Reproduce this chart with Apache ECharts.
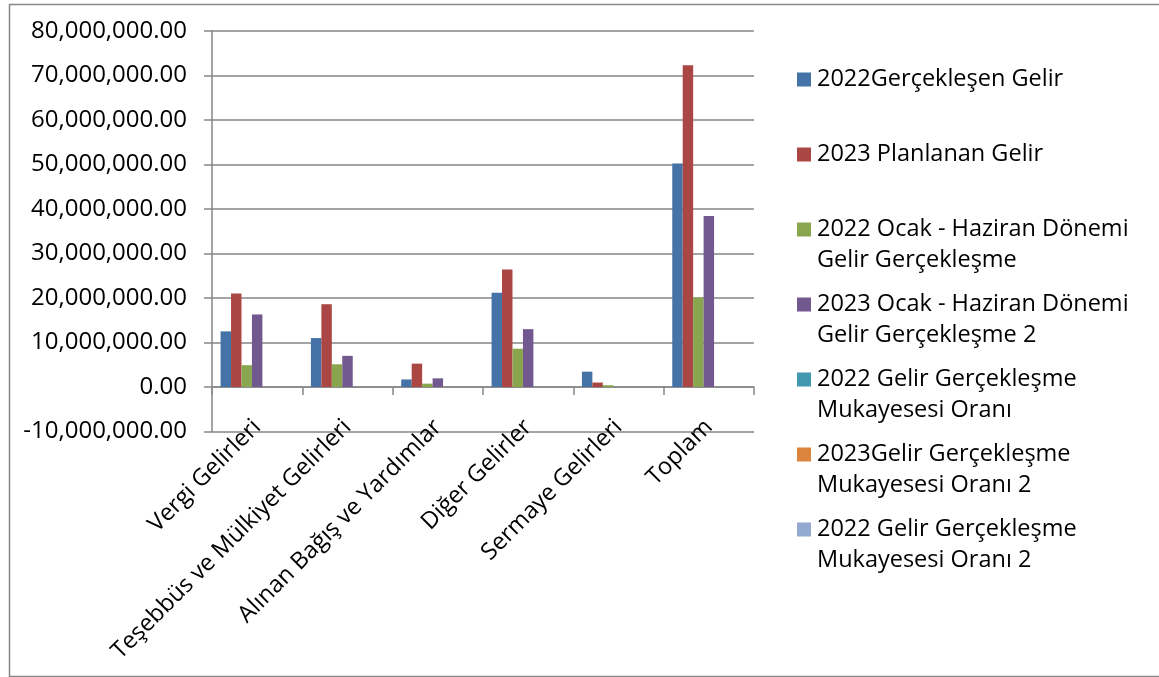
<!DOCTYPE html>
<html>
<head>
<meta charset="utf-8">
<script src="https://cdn.jsdelivr.net/npm/echarts@6/dist/echarts.min.js"></script>
<style>
html,body{margin:0;padding:0;background:#fff;}
#c{width:1159px;height:677px;}
</style>
</head>
<body>
<div id="c"></div>
<script>
var categories = ['Vergi Gelirleri', 'Teşebbüs ve Mülkiyet Gelirleri', 'Alınan Bağış ve Yardımlar', 'Diğer Gelirler', 'Sermaye Gelirleri', 'Toplam'];

var seriesNames = [
  '2022Gerçekleşen Gelir',
  '2023 Planlanan Gelir',
  '2022 Ocak - Haziran Dönemi\nGelir Gerçekleşme',
  '2023 Ocak - Haziran Dönemi\nGelir Gerçekleşme 2',
  '2022 Gelir Gerçekleşme\nMukayesesi Oranı',
  '2023Gelir Gerçekleşme\nMukayesesi Oranı 2',
  '2022 Gelir Gerçekleşme\nMukayesesi Oranı 2'
];

var gerceklesen2022 = [12500000, 11000000, 1700000, 21200000, 3450000, 50200000];
var planlanan2023   = [21000000, 18600000, 5250000, 26400000, 1000000, 72300000];
var ocakHaziran2022 = [4900000, 5100000, 750000, 8600000, 400000, 20100000];
var ocakHaziran2023 = [16300000, 7000000, 1950000, 13000000, 0, 38400000];
var oran2022        = [0, 0, 0, 0, 0, 0];
var oran2023_2      = [0, 0, 0, 0, 0, 0];
var oran2022_2      = [0, 0, 0, 0, 0, 0];

var yTicks = { min: -10000000, max: 80000000, interval: 10000000 };

var colors = ['#4572A7', '#AA4643', '#89A54E', '#71588F', '#4198AF', '#DB843D', '#93A9CF'];
var seriesData = [gerceklesen2022, planlanan2023, ocakHaziran2022, ocakHaziran2023, oran2022, oran2023_2, oran2022_2];

var FONT = 'Open Sans';
var FS = 23.5;

function fmt(v) {
  var neg = v < 0;
  var s = Math.abs(v).toFixed(2);
  var parts = s.split('.');
  parts[0] = parts[0].replace(/\B(?=(\d{3})+(?!\d))/g, ',');
  return (neg ? '-' : '') + parts[0] + '.' + parts[1];
}

var rich = { g: { width: 6, height: 14 }, s: { width: 20, height: 14, lineHeight: 31 } };
colors.forEach(function (c, i) {
  rich['m' + i] = { backgroundColor: c, width: 14, height: 14, lineHeight: 31 };
});

var series = seriesNames.map(function (n, i) {
  return {
    name: n,
    type: 'bar',
    data: seriesData[i],
    barGap: '0%',
    barCategoryGap: '19%',
    itemStyle: { color: colors[i] },
    emphasis: { disabled: true }
  };
});

var chart = echarts.init(document.getElementById('c'), null, { renderer: 'canvas' });
chart.setOption({
  backgroundColor: '#fff',
  animation: false,
  textStyle: { fontFamily: FONT },
  graphic: [{
    type: 'rect',
    left: 7, top: 2,
    shape: { width: 1151, height: 672 },
    style: { fill: 'none', stroke: '#868686', lineWidth: 1.5 },
    silent: true
  }],
  grid: { left: 212, right: 405, top: 31, bottom: 245.5, containLabel: false, outerBoundsMode: 'none' },
  legend: {
    orient: 'vertical',
    left: 792,
    top: 64,
    itemWidth: 0,
    itemHeight: 14,
    itemGap: 13,
    padding: 0,
    data: seriesNames,
    textStyle: { fontFamily: FONT, fontSize: FS, color: '#000', lineHeight: 31, rich: rich },
    formatter: function (name) {
      var i = seriesNames.indexOf(name);
      var lines = name.split('\n');
      var first = '{m' + i + '|}{g|}' + lines[0];
      var second = '{s|}' + (lines[1] || '');
      return first + '\n' + second;
    }
  },
  xAxis: {
    type: 'category',
    data: categories,
    axisLine: { onZero: true, lineStyle: { color: '#868686', width: 1.5 } },
    axisTick: { show: true, length: 8, alignWithLabel: false, lineStyle: { color: '#868686', width: 1.5 } },
    axisLabel: { interval: 0, rotate: 45, margin: -8, fontFamily: FONT, fontSize: FS, color: '#000', hideOverlap: false, overflow: 'none' },
    splitLine: { show: false }
  },
  yAxis: {
    type: 'value',
    min: yTicks.min,
    max: yTicks.max,
    interval: yTicks.interval,
    axisLine: { show: true, lineStyle: { color: '#868686', width: 1.5 } },
    axisTick: { show: true, length: 8, lineStyle: { color: '#868686', width: 1.5 } },
    axisLabel: { margin: 25, fontFamily: FONT, fontSize: 24, color: '#000', formatter: fmt },
    splitLine: { show: true, lineStyle: { color: '#868686', width: 1.5 } }
  },
  series: series
});
</script>
</body>
</html>
